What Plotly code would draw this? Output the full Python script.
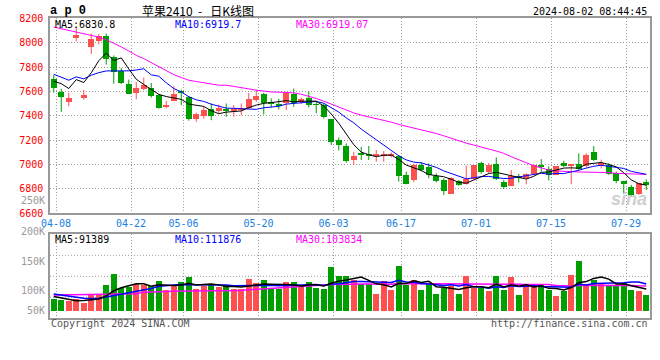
import pandas as pd
import plotly.graph_objects as go

# ---------------- data ----------------
holidays = ["2024-05-01", "2024-05-02", "2024-05-03", "2024-06-10"]
dates = [d.strftime("%m-%d") for d in pd.bdate_range("2024-04-08", "2024-08-01")
         if d.strftime("%Y-%m-%d") not in holidays]

opens = [7700, 7596, 7514, 8033, 7547, 7958, 8008, 8052, 7880, 7765,
         7660, 7583, 7615, 7624, 7569, 7473, 7523, 7602, 7555, 7370,
         7392, 7452, 7441, 7455, 7441, 7444, 7460, 7528, 7577, 7512,
         7495, 7506, 7577, 7509, 7542, 7492, 7487, 7370, 7195, 7152,
         7037, 7092, 7083, 7070, 7075, 7075, 7065, 6913, 6874, 6996,
         6977, 6906, 6874, 6758, 6860, 6838, 6879, 7010, 6934, 6998,
         6852, 6825, 6906, 6888, 6923, 6993, 6957, 6915, 7009, 6991,
         7001, 6982, 7100, 6991, 6991, 6928, 6866, 6811, 6760, 6855]
highs = [7735, 7620, 7590, 8125, 7612, 8075, 8070, 8075, 7895, 7792,
         7697, 7678, 7714, 7670, 7575, 7523, 7643, 7615, 7561, 7424,
         7473, 7501, 7492, 7501, 7487, 7501, 7588, 7615, 7588, 7542,
         7539, 7596, 7624, 7550, 7602, 7520, 7501, 7372, 7223, 7173,
         7105, 7146, 7152, 7119, 7111, 7100, 7078, 6942, 7005, 7020,
         7010, 6928, 6887, 6895, 6874, 6991, 6996, 7023, 7012, 7059,
         6874, 6955, 6923, 6928, 6996, 7045, 6985, 6988, 7031, 7004,
         7092, 7092, 7152, 7040, 7009, 6942, 6866, 6833, 6852, 6879]
lows = [7590, 7432, 7478, 8010, 7531, 7908, 7988, 7820, 7664, 7660,
        7578, 7536, 7610, 7550, 7458, 7460, 7520, 7487, 7360, 7351,
        7378, 7364, 7419, 7392, 7392, 7405, 7455, 7514, 7411, 7468,
        7452, 7446, 7474, 7495, 7468, 7420, 7378, 7160, 7116, 7015,
        6996, 7037, 7037, 7023, 7023, 7059, 6860, 6838, 6855, 6945,
        6887, 6852, 6750, 6758, 6827, 6835, 6877, 6923, 6928, 6874,
        6800, 6825, 6852, 6838, 6923, 6942, 6870, 6915, 6980, 6838,
        6955, 6977, 7031, 6968, 6915, 6847, 6760, 6737, 6751, 6791]
closes = [7629, 7555, 7547, 8060, 7569, 8027, 8052, 7864, 7760, 7670,
          7580, 7624, 7651, 7561, 7465, 7487, 7577, 7583, 7370, 7411,
          7446, 7400, 7460, 7433, 7446, 7462, 7536, 7561, 7506, 7495,
          7482, 7583, 7506, 7536, 7487, 7487, 7384, 7179, 7160, 7023,
          7070, 7078, 7070, 7083, 7080, 7078, 6901, 6838, 6990, 6955,
          6915, 6866, 6784, 6885, 6832, 6879, 6993, 6934, 6993, 6879,
          6813, 6901, 6888, 6923, 6993, 6975, 6915, 6985, 6988, 7001,
          6961, 7078, 7037, 7009, 6920, 6860, 6838, 6745, 6846, 6827]

ma5 = [7684, 7664, 7624, 7697, 7673, 7753, 7852, 7915, 7854, 7875,
       7785, 7700, 7657, 7617, 7576, 7558, 7548, 7535, 7496, 7486,
       7477, 7442, 7417, 7430, 7437, 7440, 7467, 7488, 7502, 7512,
       7516, 7525, 7514, 7520, 7519, 7520, 7480, 7415, 7339, 7247,
       7163, 7102, 7080, 7065, 7076, 7078, 7042, 6996, 6976, 6951,
       6918, 6911, 6900, 6879, 6854, 6847, 6872, 6902, 6926, 6936,
       6922, 6904, 6895, 6881, 6904, 6936, 6939, 6958, 6971, 6973,
       6970, 7003, 7013, 7017, 7001, 6981, 6933, 6874, 6842, 6831]
ma10 = [7741, 7714, 7692, 7719, 7703, 7733, 7754, 7768, 7768, 7774,
        7769, 7776, 7786, 7736, 7725, 7671, 7624, 7596, 7557, 7531,
        7518, 7495, 7476, 7463, 7461, 7459, 7455, 7453, 7466, 7475,
        7478, 7496, 7501, 7511, 7515, 7518, 7503, 7465, 7430, 7383,
        7342, 7291, 7247, 7202, 7161, 7121, 7072, 7038, 7020, 7014,
        6998, 6977, 6948, 6927, 6903, 6883, 6892, 6901, 6903, 6895,
        6885, 6888, 6899, 6904, 6920, 6929, 6921, 6927, 6926, 6938,
        6953, 6971, 6986, 6994, 6987, 6975, 6968, 6944, 6930, 6920]
ma30 = [8128, 8115, 8101, 8087, 8074, 8065, 8046, 8025, 7997, 7965,
        7932, 7896, 7869, 7836, 7801, 7765, 7738, 7714, 7692, 7681,
        7673, 7662, 7651, 7651, 7643, 7632, 7621, 7610, 7602, 7596,
        7594, 7591, 7588, 7577, 7561, 7542, 7520, 7495, 7468, 7446,
        7424, 7405, 7392, 7378, 7364, 7348, 7329, 7315, 7299, 7288,
        7274, 7255, 7236, 7214, 7195, 7176, 7160, 7141, 7127, 7111,
        7092, 7064, 7037, 7015, 6991, 6974, 6955, 6947, 6942, 6942,
        6939, 6939, 6936, 6936, 6934, 6928, 6925, 6923, 6920, 6919]

volume = [49600, 45500, 41400, 48400, 31000, 63300, 63300, 107500, 153000, 93900,
          99200, 111600, 104600, 103400, 124000, 86800, 107500, 117000, 137700, 91000,
          103400, 111600, 96300, 104600, 91000, 91000, 132300, 114500, 128200, 89700,
          89700, 117000, 119900, 98000, 117000, 92200, 88100, 179000, 141800, 141800,
          128200, 110400, 110400, 70300, 124000, 83900, 183200, 107500, 128200, 86800,
          110400, 70300, 93900, 100500, 70300, 144700, 93900, 93900, 79800, 144700,
          83900, 137700, 66200, 107500, 100500, 107500, 86800, 62000, 79800, 148900,
          206800, 110400, 128200, 108800, 105400, 107500, 114500, 86800, 82700, 66200]
vol_ma5 = [60000, 55000, 49000, 42000, 43200, 45900, 49500, 62700, 83600, 96200,
           103400, 113000, 112500, 102500, 108600, 106100, 105300, 107700, 114600, 108000,
           111300, 112100, 108000, 101400, 101400, 98900, 103000, 106700, 111400, 111100,
           110900, 107800, 108900, 102900, 108300, 108800, 103000, 114900, 123600, 128600,
           135800, 140200, 126500, 112200, 108700, 99800, 114400, 113800, 125400, 117900,
           123200, 100600, 97900, 92400, 89100, 95900, 100700, 100700, 96500, 111400,
           99200, 108000, 102500, 108000, 99200, 103900, 93700, 92900, 87300, 97000,
           116900, 121600, 134800, 140600, 131900, 112100, 112900, 104600, 99400, 91389]
vol_ma10 = [70000, 65000, 60000, 57000, 53000, 52000, 53000, 58000, 64000, 69700,
            74700, 81300, 87600, 93100, 102400, 104700, 109200, 110100, 108600, 108300,
            108700, 108700, 107900, 108000, 104700, 105100, 107600, 107300, 106400, 106300,
            104900, 105400, 107800, 107100, 109700, 109900, 105400, 111900, 113200, 118500,
            122300, 121600, 120700, 117900, 118600, 117800, 127300, 120200, 118800, 113300,
            111500, 107500, 105900, 108900, 103500, 109600, 100700, 99300, 94500, 100200,
            97600, 104300, 101600, 102300, 105300, 101600, 100900, 97700, 97700, 98100,
            110400, 107600, 113800, 114000, 114500, 114500, 117200, 119700, 120000, 111876]
vol_ma30 = [66000, 66000, 66000, 66000, 66000, 66000, 66000, 69000, 70000, 70000,
            71000, 71000, 78000, 80000, 81000, 81000, 82000, 83000, 83000, 83000,
            83000, 84000, 84000, 84000, 85000, 85000, 88000, 90000, 92000, 94700,
            96100, 98500, 101100, 102700, 105600, 106600, 107400, 109800, 109400, 111000,
            112000, 111900, 112100, 111000, 111000, 110900, 113400, 113100, 112800, 112700,
            112900, 111500, 111400, 111300, 110600, 112400, 111100, 110400, 108800, 110700,
            110500, 111200, 109400, 109700, 109100, 109600, 109600, 105700, 103600, 103900,
            106500, 106500, 107100, 108400, 107700, 108500, 106200, 105600, 104000, 103834]

tick_dates = ["04-08", "04-22", "05-06", "05-20", "06-03", "06-17", "07-01", "07-15", "07-29"]
price_ticks = [6600, 6800, 7000, 7200, 7400, 7600, 7800, 8000, 8200]
vol_tick_labels = ["250K", "200K", "150K", "100K", "50K"]
legend_price = ["MA5:6830.8", "MA10:6919.7", "MA30:6919.07"]
legend_vol = ["MA5:91389", "MA10:111876", "MA30:103834"]

# ---------------- styling ----------------
W, H = 660, 360
UP, DOWN = "#ff5050", "#009f00"
MONO = "DejaVu Sans Mono"
GRID = "#9c9c9c"
BORDER = "#999999"
L, R = 50, 650
P_TOP, P_BOT = 18.3, 213.3
V_TOP, V_BOT = 234.3, 318.3


def px(x):
    return x / W


def py(y):
    return 1 - y / H


n = len(closes)
xs = list(range(n))
col = [UP if c >= o else DOWN for o, c in zip(opens, closes)]
body_base = [min(o, c) for o, c in zip(opens, closes)]
body_h = [max(abs(c - o), 7) for o, c in zip(opens, closes)]

fig = go.Figure()

# candle bodies
fig.add_trace(go.Bar(x=xs, y=body_h, base=body_base, marker=dict(color=col, line_width=0),
                     width=0.76, xaxis="x", yaxis="y", showlegend=False, hoverinfo="skip"))
# volume bars
fig.add_trace(go.Bar(x=xs, y=volume, marker=dict(color=col, line_width=0),
                     width=0.8, xaxis="x2", yaxis="y2", showlegend=False, hoverinfo="skip"))

# wicks
for color in (UP, DOWN):
    wx, wy = [], []
    for i in xs:
        if col[i] == color:
            wx += [i, i, None]
            wy += [lows[i], highs[i], None]
    fig.add_trace(go.Scatter(x=wx, y=wy, mode="lines", line=dict(color=color, width=1),
                             xaxis="x", yaxis="y", showlegend=False, hoverinfo="skip"))

# price MAs
for series, c in ((ma30, "#ff00ff"), (ma10, "#0000ff"), (ma5, "#000000")):
    fig.add_trace(go.Scatter(x=xs, y=series, mode="lines", line=dict(color=c, width=1),
                             xaxis="x", yaxis="y", showlegend=False, hoverinfo="skip"))
# volume MAs
for series, c in ((vol_ma30, "#ff00ff"), (vol_ma10, "#0000ff"), (vol_ma5, "#000000")):
    fig.add_trace(go.Scatter(x=xs, y=series, mode="lines", line=dict(color=c, width=1.5),
                             xaxis="x2", yaxis="y2", showlegend=False, hoverinfo="skip"))

tickpos = [dates.index(d) + 0.3 for d in tick_dates]

xcommon = dict(range=[-0.5, n - 0.5], domain=[px(L), px(R)], tickmode="array",
               tickvals=tickpos, ticktext=tick_dates, showgrid=True, gridcolor=GRID,
               griddash="1px,2px", gridwidth=1, zeroline=False, showline=True,
               linecolor=BORDER, linewidth=1.5, mirror=True, ticks="", automargin=False)

fig.update_layout(
    width=W, height=H, margin=dict(l=0, r=0, t=0, b=0, autoexpand=False),
    paper_bgcolor="white", plot_bgcolor="white", bargap=0, showlegend=False,
    xaxis=dict(**xcommon, anchor="y", showticklabels=True,
               tickfont=dict(family=MONO, size=10, color="#1a80e0"), ticklabelstandoff=0),
    xaxis2=dict(**xcommon, anchor="y2", showticklabels=False),
    yaxis=dict(domain=[py(P_BOT), py(P_TOP)], range=[6600, 8200], tickmode="array",
               tickvals=price_ticks, ticktext=[str(t) for t in price_ticks],
               tickfont=dict(family=MONO, size=10, color="#ff0000"),
               showgrid=True, gridcolor=GRID, griddash="1px,2px", zeroline=False,
               showline=True, linecolor=BORDER, linewidth=1.5, mirror=True, ticks="",
               ticklabelstandoff=3, anchor="x", automargin=False),
    yaxis2=dict(domain=[py(V_BOT), py(V_TOP)], range=[-30200, 317200], showticklabels=False,
                showgrid=False, zeroline=False, showline=True, linecolor=BORDER,
                linewidth=1.5, mirror=True, ticks="", anchor="x2", automargin=False),
)

# volume panel horizontal grid (quarters of the panel)
for f in (0.25, 0.5, 0.75):
    fig.add_shape(type="line", xref="x2 domain", yref="y2 domain", x0=0, x1=1, y0=f, y1=f,
                  line=dict(color=GRID, width=1, dash="1px,2px"), layer="below")

ann = []


def text(x, y, s, color="#000", size=10, xanchor="left", family=MONO, **kw):
    ann.append(dict(x=px(x), y=py(y), xref="paper", yref="paper", text=s, showarrow=False,
                    xanchor=xanchor, yanchor="middle", font=dict(family=family, size=size, color=color),
                    **kw))


NB = "\u00a0"
text(48, 11, "<b>a p 0</b>", size=12, family="Liberation Mono")
text(140, 10, "苹果2410" + NB * 2 + "-" + NB * 3 + "日K线图", size=12, family="Noto Sans CJK SC")
text(649, 12, "2024-08-02 08:44:45", xanchor="right")

for s, x, c in zip(legend_price, (53, 173, 294), ("#000000", "#0000ff", "#ff00ff")):
    text(x, 24.5, s, color=c)
for s, x, c in zip(legend_vol, (53, 173, 294), ("#000000", "#0000ff", "#ff00ff")):
    text(x, 239, s, color=c)

for s, y in zip(vol_tick_labels, (200.5, 231, 261, 290.5, 310)):
    text(46.5, y, s, color="#999999", xanchor="right")

text(49, 323.5, "Copyright 2024 SINA.COM", color="#555555")
text(650, 323.5, "http://finance.sina.com.cn", color="#555555", xanchor="right")
text(649, 199, "<b><i>sina</i></b>", color="#cfcfcf", size=18, family="Liberation Sans",
     xanchor="right")

fig.update_layout(annotations=ann)

fig.write_html("out.html", config={"displayModeBar": False},
               post_script="document.body.style.margin='0';document.body.style.overflow='hidden';")
